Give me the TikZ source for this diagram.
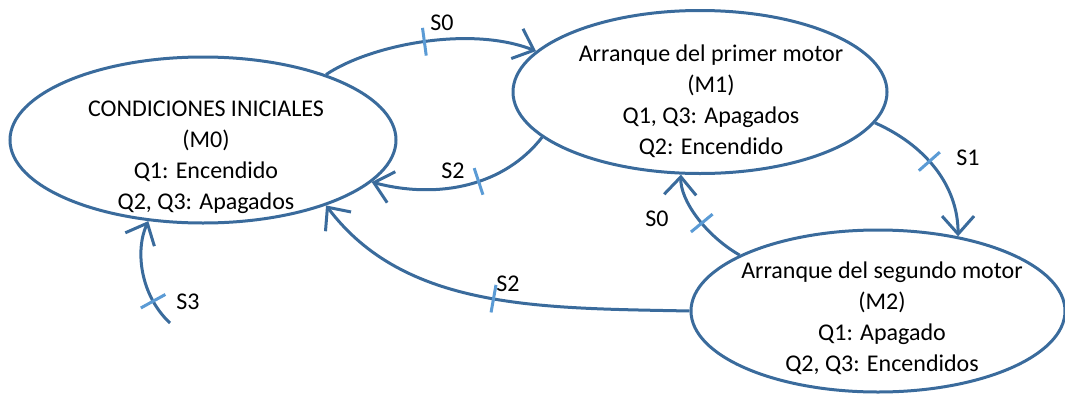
\documentclass[tikz,border=0pt]{standalone}
\usepackage{fontspec}
\setmainfont{Carlito}
\usetikzlibrary{shapes.geometric,arrows.meta,decorations.markings}
\definecolor{linec}{HTML}{3A6B9C}
\definecolor{tickc}{HTML}{5B9BD5}
\tikzset{
  state/.style={ellipse, draw=linec, line width=3pt, inner sep=0pt},
  txt/.style={align=center, font=\fontsize{24}{31}\selectfont, inner sep=0pt},
  lbl/.style={font=\fontsize{24}{29}\selectfont, inner sep=0pt},
  conn/.style={draw=linec, line width=3pt, -{Straight Barb[length=18pt,width=32pt]}},
  tickat/.style={postaction={decorate,decoration={markings,
     mark=at position #1 with {\draw[tickc, line width=3pt, arrows=-] (0,-14pt) -- (0,14pt);}}}}
}
\begin{document}
\begin{tikzpicture}[x=1pt,y=-1pt]
\useasboundingbox (0,0) rectangle (1065,394);
% states
\node[state, minimum width=386pt, minimum height=166pt] (m0) at (203,140) {};
\node[state, minimum width=374pt, minimum height=163pt] (m1) at (700,92) {};
\node[state, minimum width=374pt, minimum height=162pt] (m2) at (878,311) {};
\node[txt] (t0) at (206,157) {CONDICIONES INICIALES\\(M0)\\Q1: Encendido\\Q2, Q3: Apagados};
\node[txt] (t1) at (711,101) {Arranque del primer motor\\(M1)\\Q1, Q3: Apagados\\Q2: Encendido};
\node[txt] (t2) at (882,318) {Arranque del segundo motor\\(M2)\\Q1: Apagado\\Q2, Q3: Encendidos};
\coordinate (s3) at (170,323);
% connectors
\draw[conn, tickat=0.48] (m0.28) .. controls (370,45) and (470,25) .. (m1.166);
\draw[conn, tickat=0.42] (m1.196) .. controls (505,185) and (440,200) .. (m0.-14);
\draw[conn, tickat=0.45] (m1.-10) .. controls (925,145) and (958,185) .. (m2.43);
\draw[conn, tickat=0.48] (m2.158) .. controls (705,235) and (680,200) .. (m1.257);
\draw[conn, tickat=0.5] (m2.180) .. controls (540,308) and (405,310) .. (m0.-28);
\draw[conn, tickat=0.25] (s3) .. controls (140,295) and (135,250) .. (m0.236);
% labels
\node[lbl] (l1) at (442,23) {S0};
\node[lbl] (l2) at (453,171) {S2};
\node[lbl] (l3) at (968,158) {S1};
\node[lbl] (l4) at (657,219) {S0};
\node[lbl] (l5) at (508,284) {S2};
\node[lbl] (l6) at (188,302) {S3};
\end{tikzpicture}
\end{document}
